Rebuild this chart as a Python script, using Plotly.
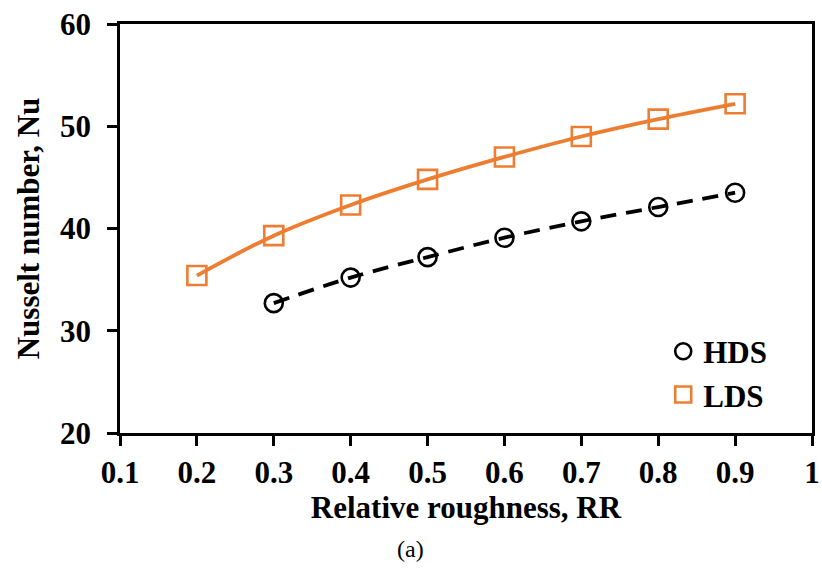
import plotly.graph_objects as go

rr_hds = [0.3, 0.4, 0.5, 0.6, 0.7, 0.8, 0.9]
nu_hds = [32.7, 35.2, 37.2, 39.1, 40.7, 42.1, 43.5]
rr_lds = [0.2, 0.3, 0.4, 0.5, 0.6, 0.7, 0.8, 0.9]
nu_lds = [35.4, 39.3, 42.3, 44.8, 47.0, 49.0, 50.7, 52.2]
x_ticks = [0.1, 0.2, 0.3, 0.4, 0.5, 0.6, 0.7, 0.8, 0.9, 1.0]
x_ticklabels = ["0.1", "0.2", "0.3", "0.4", "0.5", "0.6", "0.7", "0.8", "0.9", "1"]
y_ticks = [20, 30, 40, 50, 60]

ORANGE = "#ED7D31"
SERIF = "Liberation Serif"

fig = go.Figure()
# trend lines
fig.add_trace(go.Scatter(x=rr_hds, y=nu_hds, mode="lines", showlegend=False,
                         line=dict(color="black", width=3.8, dash="16px,10px", shape="spline")))
fig.add_trace(go.Scatter(x=rr_lds, y=nu_lds, mode="lines", showlegend=False,
                         line=dict(color=ORANGE, width=3.8, shape="spline")))
# markers
fig.add_trace(go.Scatter(x=rr_hds, y=nu_hds, mode="markers", name="HDS",
                         marker=dict(symbol="circle-open", size=18, color="black",
                                     line=dict(width=2.6, color="black"))))
fig.add_trace(go.Scatter(x=rr_lds, y=nu_lds, mode="markers", name="LDS",
                         marker=dict(symbol="square-open", size=19, color=ORANGE,
                                     line=dict(width=2.6, color=ORANGE))))

axis_font = dict(family=SERIF, size=31, color="black", weight="bold")
fig.update_layout(
    width=822, height=570,
    margin=dict(l=120, r=10, t=24, b=137),
    plot_bgcolor="white", paper_bgcolor="white",
    font=dict(family=SERIF, color="black"),
    xaxis=dict(range=[0.1, 1.0], tickvals=x_ticks, ticktext=x_ticklabels,
               automargin=False, ticklabeloverflow="allow",
               showgrid=False, zeroline=False, showline=True, linecolor="black",
               linewidth=2.5, mirror=True, ticks="outside", ticklen=10, tickwidth=2.5,
               tickcolor="black", tickfont=axis_font,
               title=dict(text="Relative roughness, RR", font=axis_font, standoff=7)),
    yaxis=dict(range=[20, 60], tickvals=y_ticks,
               automargin=False, ticklabelstandoff=10,
               showgrid=False, zeroline=False, showline=True, linecolor="black",
               linewidth=2.5, mirror=True, ticks="outside", ticklen=10, tickwidth=2.5,
               tickcolor="black", tickfont=axis_font,
               title=dict(text="Nusselt number, Nu", font=axis_font, standoff=12)),
    legend=dict(x=0.785, y=0.265, xanchor="left", yanchor="top",
                bgcolor="rgba(0,0,0,0)", font=dict(family=SERIF, size=31, color="black", weight="bold"),
                itemwidth=30, tracegroupgap=0),
    annotations=[dict(text="(a)", x=0.42, y=-0.283, xref="paper", yref="paper",
                      xanchor="center", yanchor="middle",
                      showarrow=False, font=dict(family=SERIF, size=24, color="black"))],
)

fig.write_html("out.html")
